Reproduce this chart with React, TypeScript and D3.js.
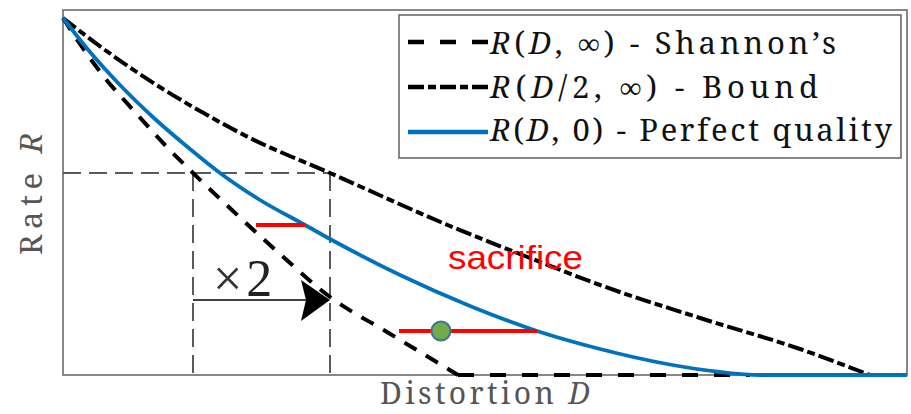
import React from 'react'
import * as d3 from 'd3'

// curves (D = distortion, R = rate)
const shannonD = [0, 0.17, 0.42, 0.72, 1.02, 1.3, 1.7, 2.17, 2.67, 3.24, 3.62, 3.95, 6.87]
const shannonR = [3.57, 3.31, 2.97, 2.63, 2.3, 2.02, 1.64, 1.21, 0.78, 0.43, 0.2, 0, 0]
const boundD = [0, 0.42, 0.92, 1.37, 1.87, 2.67, 3.87, 4.67, 5.37, 6.37, 7.37, 8.07]
const boundR = [3.57, 3.25, 2.91, 2.64, 2.37, 2.02, 1.49, 1.17, 0.9, 0.57, 0.26, 0]
const perfectD = [0, 0.27, 0.57, 0.92, 1.27, 1.57, 1.97, 2.42, 2.67, 3.37, 4.07, 4.74, 5.37, 6.04, 6.57, 6.97, 8.44]
const perfectR = [3.57, 3.23, 2.9, 2.56, 2.26, 2.02, 1.75, 1.5, 1.36, 1.0, 0.69, 0.44, 0.26, 0.11, 0.03, 0, 0]

// annotations
const guideR = 2.02
const guideD = [1.3, 2.67]
const arrowR = 0.75
const upperBarD = [1.93, 2.42]
const upperBarR = 1.5
const lowerBarD = [3.36, 4.74]
const lowerBarR = 0.44
const pointD = 3.78
const pointR = 0.44

const legendLabels = ['Shannon\u2019s', 'Bound', 'Perfect quality']

const W = 911
const H = 414
const left = 63
const right = 907
const top = 10
const bottom = 375

const x = d3.scaleLinear().domain([0, 8.44]).range([left, right])
const y = d3.scaleLinear().domain([0, 3.65]).range([bottom, top])

const zip = (ds: number[], rs: number[]): [number, number][] => ds.map((d, i) => [d, rs[i]])

const smooth = d3
  .line<[number, number]>()
  .x(d => x(d[0]))
  .y(d => y(d[1]))
  .curve(d3.curveMonotoneX)
const straight = d3
  .line<[number, number]>()
  .x(d => x(d[0]))
  .y(d => y(d[1]))

const serif = { fontFamily: 'Noto Serif' }
const times = { fontFamily: 'Liberation Serif' }
const sans = { fontFamily: 'Liberation Sans' }

const DASH = '16,16'
const DASHDOT = '16,4,8,4'

const App: React.FC = () => {
  const sh = zip(shannonD, shannonR)
  const cut = shannonR.indexOf(0)
  const shCurve = sh.slice(0, cut + 1)
  const shFlat = sh.slice(cut)
  const bound = zip(boundD, boundR)
  const perfect = zip(perfectD, perfectR)

  const gx0 = x(guideD[0])
  const gx1 = x(guideD[1])
  const gy = y(guideR)
  const ay = y(arrowR)

  const lx0 = 408
  const lx1 = 488
  const rows = [42, 87, 132]
  const it = { fontStyle: 'italic' as const }

  return (
    <svg width={W} height={H} style={{ position: 'absolute', left: 0, top: 0, background: '#fff' }}>
      {/* frame */}
      <rect x={left} y={top} width={right - left} height={bottom - top} fill="none" stroke="#6a6a6a" strokeWidth={1.6} />

      {/* guide rectangle */}
      <g stroke="#5a5a5a" strokeWidth={2} strokeDasharray="18,8" fill="none">
        <line x1={left} x2={gx1} y1={gy} y2={gy} />
        <line x1={gx0} x2={gx0} y1={gy} y2={bottom} />
        <line x1={gx1} x2={gx1} y1={gy} y2={bottom} />
      </g>

      {/* curves */}
      <path d={smooth(bound) || ''} fill="none" stroke="#000" strokeWidth={4} strokeDasharray={DASHDOT} />
      <path d={smooth(shCurve) || ''} fill="none" stroke="#000" strokeWidth={4} strokeDasharray="14,11" />
      <path d={straight(shFlat) || ''} fill="none" stroke="#000" strokeWidth={4} strokeDasharray={DASH} />
      <path d={smooth(perfect) || ''} fill="none" stroke="#0072BD" strokeWidth={3.8} />

      {/* x2 arrow */}
      <line x1={gx0} x2={gx1 - 12} y1={ay} y2={ay} stroke="#000" strokeWidth={1.6} />
      <path d={`M${gx1},${ay} L${gx1 - 29},${ay - 20} L${gx1 - 24},${ay} L${gx1 - 29},${ay + 21} Z`} fill="#000" />
      <text x={x(1.5)} y={y(0.79)} style={times} fontSize={52} fill="#222">
        <tspan fill="#333">×</tspan>
        <tspan dx={4}>2</tspan>
      </text>

      {/* sacrifice marks */}
      <line x1={x(upperBarD[0])} x2={x(upperBarD[1])} y1={y(upperBarR)} y2={y(upperBarR)} stroke="#ff0000" strokeWidth={4} />
      <line x1={x(lowerBarD[0])} x2={x(lowerBarD[1])} y1={y(lowerBarR)} y2={y(lowerBarR)} stroke="#ff0000" strokeWidth={4} />
      <circle cx={x(pointD)} cy={y(pointR)} r={9.5} fill="#70AD47" stroke="#41719C" strokeWidth={2} />
      <text x={x(3.85)} y={y(1.06)} style={sans} fontSize={34} fill="#ff0000" textLength={135} lengthAdjust="spacingAndGlyphs">
        sacrifice
      </text>

      {/* legend */}
      <rect x={399} y={15} width={502} height={143} fill="#fff" stroke="#6a6a6a" strokeWidth={1.6} />
      <line x1={lx0} x2={lx1} y1={rows[0]} y2={rows[0]} stroke="#000" strokeWidth={4.5} strokeDasharray={DASH} />
      <line x1={lx0} x2={lx1} y1={rows[1]} y2={rows[1]} stroke="#000" strokeWidth={4.5} strokeDasharray={DASHDOT} />
      <line x1={lx0} x2={lx1} y1={rows[2]} y2={rows[2]} stroke="#0072BD" strokeWidth={4.5} />
      <text x={490} y={rows[0] + 12} style={serif} fontSize={31} fill="#111" textLength={346} lengthAdjust="spacing">
        <tspan style={it}>R</tspan>(<tspan style={it}>D</tspan>, ∞) - {legendLabels[0]}
      </text>
      <text x={490} y={rows[1] + 11} style={serif} fontSize={31} fill="#111" textLength={328} lengthAdjust="spacing">
        <tspan style={it}>R</tspan>(<tspan style={it}>D</tspan>/2, ∞) - {legendLabels[1]}
      </text>
      <text x={490} y={rows[2] + 9} style={serif} fontSize={31} fill="#111" textLength={402} lengthAdjust="spacing">
        <tspan style={it}>R</tspan>(<tspan style={it}>D</tspan>, 0) - {legendLabels[2]}
      </text>

      {/* axis labels */}
      <text x={485} y={404} textAnchor="middle" style={serif} fontSize={30} fill="#555" textLength={210} lengthAdjust="spacing">
        Distortion <tspan style={it}>D</tspan>
      </text>
      <text transform="translate(42,194) rotate(-90)" textAnchor="middle" style={serif} fontSize={31} fill="#555" textLength={122} lengthAdjust="spacing">
        Rate <tspan style={it}>R</tspan>
      </text>
    </svg>
  )
}

export default App
